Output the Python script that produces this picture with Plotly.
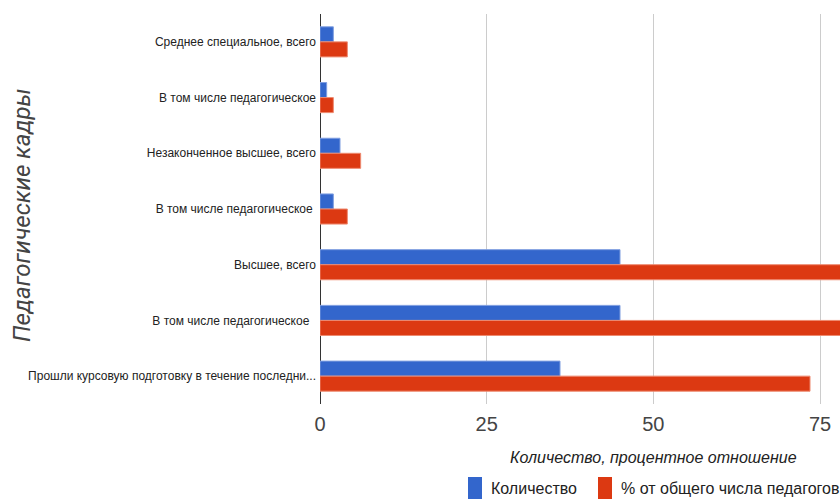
import plotly.graph_objects as go

categories = [
    "Среднее специальное, всего",
    "В том числе педагогическое",
    "Незаконченное высшее, всего",
    "В том числе педагогическое ",
    "Высшее, всего",
    "В том числе педагогическое  ",
    "Прошли курсовую подготовку в течение последни...",
]
counts = [2, 1, 3, 2, 45, 45, 36]
percents = [4.1, 2.0, 6.1, 4.1, 91.8, 91.8, 73.5]
series_names = ["Количество", "% от общего числа педагогов"]

x_ticks = [0, 25, 50, 75]
x_title = "Количество, процентное отношение"
y_title = "Педагогические кадры"

BLUE = "#3366cc"
RED = "#dc3912"
SANS = "Liberation Sans, Arial, sans-serif"

W, H = 840, 499
L, R, T, B = 320, 0, 14, 95
PW, PH = W - L - R, H - T - B


def px(x):
    return (x - L) / PW


def py(y):
    return 1 - (y - T) / PH


fig = go.Figure()
fig.add_trace(go.Bar(
    y=categories, x=counts, orientation="h", name=series_names[0],
    marker=dict(color=BLUE, line=dict(color="#7f9ee0", width=1)),
))
fig.add_trace(go.Bar(
    y=categories, x=percents, orientation="h", name=series_names[1],
    marker=dict(color=RED, line=dict(color="#ee8a70", width=1)),
))

fig.update_layout(
    width=W, height=H,
    margin=dict(l=L, r=R, t=T, b=B, autoexpand=False),
    paper_bgcolor="white", plot_bgcolor="white",
    barmode="group", bargap=0.46, bargroupgap=0.0,
    font=dict(family=SANS, color="#222222"),
    showlegend=False,
)
fig.update_yaxes(
    categoryorder="array", categoryarray=categories, autorange="reversed",
    tickfont=dict(size=12, family=SANS, color="#222222"),
    showgrid=False, ticks="", ticklabelstandoff=3, automargin=False,
)
fig.update_xaxes(
    range=[0, 78], tickvals=x_ticks,
    tickfont=dict(size=20, family=SANS, color="#444444"),
    showgrid=True, gridcolor="#cccccc", gridwidth=1,
    zeroline=True, zerolinecolor="#333333", zerolinewidth=1,
    ticks="", ticklabelstandoff=6, automargin=False,
)

# axis titles
fig.add_annotation(
    text=y_title, textangle=-90, xref="paper", yref="paper",
    x=px(22), y=py(215), xanchor="center", yanchor="middle", showarrow=False,
    font=dict(size=24, family="Roboto, sans-serif", color="#444444", style="italic"),
)
fig.add_annotation(
    text=x_title, xref="paper", yref="paper",
    x=px(653), y=py(457), xanchor="center", yanchor="middle", showarrow=False,
    font=dict(size=16, family=SANS, color="#222222", style="italic"),
)

# legend: colour swatches with labels
legend_items = [(468, BLUE, series_names[0]), (598, RED, series_names[1])]
for x0, color, label in legend_items:
    fig.add_shape(
        type="rect", xref="paper", yref="paper",
        x0=px(x0), x1=px(x0 + 14), y0=py(477), y1=py(502),
        fillcolor=color, line=dict(width=0),
    )
    fig.add_annotation(
        text=label, xref="paper", yref="paper",
        x=px(x0 + 21), y=py(489), xanchor="left", yanchor="middle",
        showarrow=False,
        font=dict(size=16, family=SANS, color="#222222"),
    )

fig.write_html("out.html")
